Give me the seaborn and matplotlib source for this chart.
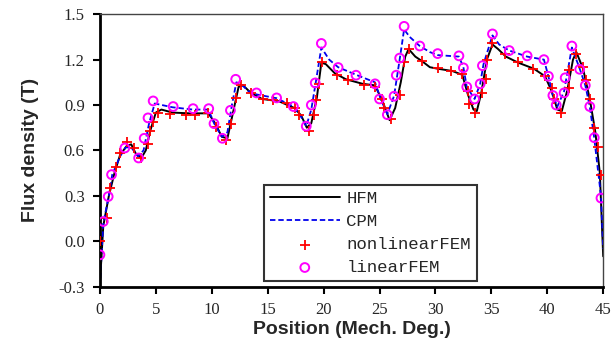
import matplotlib
matplotlib.use("Agg")
import matplotlib.pyplot as plt
import seaborn as sns
import pandas as pd

# ---- data ----
hfm_x = [0, 0.3, 0.8, 1.3, 1.8, 2.4, 2.8, 3.2, 3.7, 4.1, 4.5, 5.0, 5.5, 6.5, 8.0, 9.7,
         10.3, 10.9, 11.4, 11.9, 12.4, 12.8, 13.5, 14.5, 16.0, 17.4, 18.0, 18.5, 18.9,
         19.4, 19.8, 20.2, 21.0, 22.0, 23.5, 24.6, 25.3, 25.9, 26.4, 26.9, 27.3, 27.6,
         28.2, 28.8, 29.5, 30.2, 31.5, 32.4, 32.9, 33.4, 33.7, 34.1, 34.6, 35.1, 35.6,
         36.3, 37.4, 38.8, 39.8, 40.4, 40.9, 41.3, 41.8, 42.3, 42.6, 43.2, 43.8, 44.3,
         44.7, 45.0]
hfm_y = [-0.28, 0.10, 0.30, 0.45, 0.57, 0.63, 0.64, 0.58, 0.55, 0.60, 0.73, 0.85, 0.87,
         0.85, 0.845, 0.845, 0.78, 0.69, 0.68, 0.85, 1.02, 1.03, 0.98, 0.94, 0.925, 0.88,
         0.83, 0.75, 0.78, 0.95, 1.18, 1.17, 1.11, 1.07, 1.04, 1.03, 0.92, 0.80, 0.88,
         1.05, 1.22, 1.27, 1.22, 1.19, 1.15, 1.14, 1.125, 1.10, 0.97, 0.87, 0.86, 0.98,
         1.20, 1.30, 1.27, 1.22, 1.18, 1.14, 1.09, 0.99, 0.87, 0.86, 1.00, 1.20, 1.25,
         1.14, 0.94, 0.72, 0.45, -0.10]

cpm_x = [0, 0.3, 0.8, 1.1, 1.8, 2.3, 2.8, 3.4, 3.9, 4.4, 4.9, 6.5, 8.3, 9.7, 10.2, 10.9,
         11.4, 11.8, 12.2, 12.6, 13.3, 14.0, 15.8, 17.3, 18.0, 18.45, 18.9, 19.3, 19.8,
         20.5, 21.3, 22.9, 24.6, 25.1, 25.7, 26.3, 26.8, 27.2, 27.7, 28.6, 29.5, 30.2,
         32.1, 32.5, 32.8, 33.5, 34.0, 34.3, 35.1, 35.7, 36.6, 38.2, 39.7, 40.1, 40.5,
         40.9, 41.5, 42.2, 42.9, 43.4, 43.8, 44.2, 44.8, 45.0]
cpm_y = [-0.30, 0.12, 0.30, 0.44, 0.56, 0.62, 0.62, 0.56, 0.60, 0.78, 0.91, 0.885, 0.87,
         0.87, 0.78, 0.69, 0.72, 0.90, 1.05, 1.04, 0.99, 0.97, 0.945, 0.89, 0.82, 0.76,
         0.87, 1.05, 1.28, 1.20, 1.15, 1.10, 1.05, 0.94, 0.84, 0.96, 1.20, 1.40, 1.35,
         1.29, 1.25, 1.23, 1.22, 1.15, 1.02, 0.94, 1.04, 1.17, 1.36, 1.30, 1.26, 1.22,
         1.20, 1.09, 0.96, 0.89, 0.99, 1.28, 1.14, 1.03, 0.89, 0.68, 0.30, -0.05]

nl_x = [0.0, 0.6, 0.9, 1.43, 1.8, 2.38, 3.04, 3.66, 4.3, 4.46, 4.76, 5.2, 6.25, 7.68, 8.5,
        9.67, 10.36, 11.3, 11.76, 12.14, 12.6, 13.5, 14.6, 15.47, 16.7, 17.4, 17.8, 18.7,
        19.1, 19.3, 19.6, 19.9, 21.2, 22.2, 23.6, 24.6, 25.2, 25.4, 26.0, 26.8, 27.2,
        27.6, 28.8, 30.2, 31.4, 32.35, 32.9, 33.0, 33.5, 34.2, 34.5, 34.6, 35.1, 36.2,
        37.35, 38.75, 39.8, 40.4, 40.6, 41.2, 41.9, 41.96, 42.6, 43.2, 43.45, 43.8, 44.2,
        44.5, 44.8]
nl_y = [0.0, 0.15, 0.35, 0.49, 0.585, 0.655, 0.618, 0.553, 0.642, 0.73, 0.79, 0.85, 0.84,
        0.835, 0.835, 0.845, 0.755, 0.666, 0.775, 0.947, 1.035, 0.98, 0.94, 0.935, 0.916,
        0.877, 0.836, 0.73, 0.836, 0.93, 1.04, 1.185, 1.10, 1.068, 1.035, 1.02, 0.94, 0.88,
        0.81, 0.964, 1.185, 1.27, 1.19, 1.146, 1.123, 1.108, 0.99, 0.91, 0.85, 0.98, 1.075,
        1.20, 1.307, 1.24, 1.185, 1.14, 1.09, 1.01, 0.94, 0.85, 1.01, 1.13, 1.24, 1.15,
        1.064, 0.94, 0.748, 0.62, 0.44]

lin_x = [0.0, 0.3, 0.74, 1.04, 2.23, 3.46, 3.96, 4.3, 4.76, 6.55, 8.33, 9.73, 10.2, 10.95,
         11.67, 12.14, 14.0, 15.8, 17.3, 18.45, 18.9, 19.25, 19.8, 21.3, 22.9, 24.6, 25.0,
         25.7, 26.3, 26.5, 26.8, 27.2, 28.6, 30.2, 32.1, 32.5, 32.8, 33.5, 34.0, 34.2, 35.1,
         36.6, 38.2, 39.7, 40.1, 40.5, 40.8, 41.5, 41.6, 42.2, 42.9, 43.4, 43.8, 44.2, 44.8]
lin_y = [-0.09, 0.13, 0.295, 0.44, 0.616, 0.55, 0.68, 0.815, 0.927, 0.89, 0.876, 0.876,
         0.777, 0.68, 0.865, 1.07, 0.98, 0.947, 0.89, 0.76, 0.90, 1.046, 1.307, 1.148,
         1.097, 1.04, 0.94, 0.836, 0.958, 1.097, 1.21, 1.42, 1.29, 1.24, 1.225, 1.146, 1.02,
         0.94, 1.04, 1.16, 1.37, 1.26, 1.225, 1.20, 1.09, 0.963, 0.90, 0.98, 1.08, 1.29,
         1.136, 1.03, 0.89, 0.684, 0.285]

x_ticks = [0, 5, 10, 15, 20, 25, 30, 35, 40, 45]
y_ticks = [-0.3, 0.0, 0.3, 0.6, 0.9, 1.2, 1.5]
x_label = "Position (Mech. Deg.)"
y_label = "Flux density (T)"
series_names = ["HFM", "CPM", "nonlinearFEM", "linearFEM"]

# ---- plot ----
sns.set_style("white")
plt.rcParams["font.family"] = ["Liberation Serif", "DejaVu Serif"]

fig = plt.figure(figsize=(6.13, 3.56), dpi=100)
ax = fig.add_axes([0.163, 0.195, 0.821, 0.765])

df_h = pd.DataFrame({"x": hfm_x, "y": hfm_y})
df_c = pd.DataFrame({"x": cpm_x, "y": cpm_y})
df_n = pd.DataFrame({"x": nl_x, "y": nl_y})
df_l = pd.DataFrame({"x": lin_x, "y": lin_y})

sns.lineplot(data=df_h, x="x", y="y", ax=ax, color="black", linewidth=1.4,
             label=series_names[0], sort=False, estimator=None)
sns.lineplot(data=df_c, x="x", y="y", ax=ax, color="#0000ee", linewidth=1.3,
             linestyle=(0, (3, 1.6)), label=series_names[1], sort=False, estimator=None)
sns.scatterplot(data=df_n, x="x", y="y", ax=ax, marker="+", color="#ff0000", s=45,
                linewidth=1.3, label=series_names[2], zorder=4)
sns.scatterplot(data=df_l, x="x", y="y", ax=ax, marker="o", facecolor="none",
                edgecolor="#ff00ff", s=40, linewidth=1.4, label=series_names[3], zorder=5)

ax.set_xlim(0, 45)
ax.set_ylim(-0.3, 1.5)
ax.set_xticks(x_ticks)
ax.set_yticks(y_ticks)
ax.set_xticklabels([str(t) for t in x_ticks], fontsize=12)
ax.set_yticklabels([f"{t:.1f}" for t in y_ticks], fontsize=12)
ax.tick_params(axis="both", direction="out", length=5, width=1.5, color="black",
               bottom=True, left=True, pad=6)

for side in ["left", "bottom"]:
    ax.spines[side].set_linewidth(2.0)
    ax.spines[side].set_color("black")
for side in ["top", "right"]:
    ax.spines[side].set_linewidth(1.0)
    ax.spines[side].set_color("#444444")

lab_font = dict(family=["Liberation Sans Narrow", "Liberation Sans", "DejaVu Sans"],
                weight="bold", size=14)
ax.set_xlabel(x_label, labelpad=2, **lab_font)
ax.set_ylabel(y_label, labelpad=14, **lab_font)

leg = ax.legend(loc="lower left", bbox_to_anchor=(0.326, 0.02), frameon=True,
                fancybox=False, handlelength=4.0, handletextpad=0.4,
                borderpad=0.35, labelspacing=0.45, borderaxespad=0.0,
                prop={"family": ["Liberation Mono", "DejaVu Sans Mono"], "size": 12.5})
leg.get_frame().set_edgecolor("black")
leg.get_frame().set_linewidth(1.5)

fig.savefig("out.png", dpi=100)
